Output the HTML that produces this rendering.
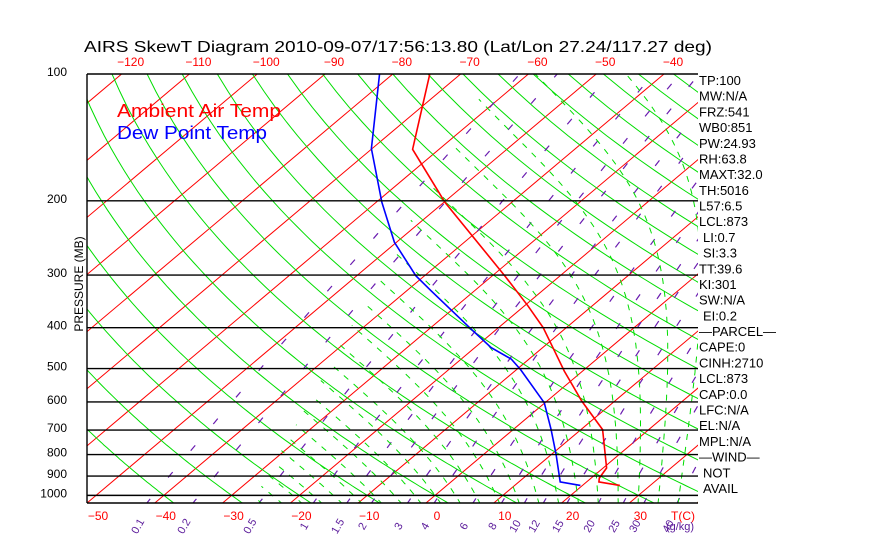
<!DOCTYPE html>
<html><head><meta charset="utf-8"><style>
html,body{margin:0;padding:0;background:#fff;}
svg{display:block;font-family:"Liberation Sans",sans-serif;}
</style></head><body>
<svg id="chart" width="870" height="560" viewBox="0 0 870 560">
<defs>
<clipPath id="plotclip"><rect x="87" y="74" width="611" height="429"/></clipPath>
<clipPath id="moistclip"><polygon points="493,74 698,74 698,503 252,503"/></clipPath>
</defs>
<g id="bg" clip-path="url(#plotclip)"></g>
<g clip-path="url(#plotclip)"><g id="moist" clip-path="url(#moistclip)"></g></g>
<g id="prof" clip-path="url(#plotclip)"></g>
<g id="labels"></g>
<text x="84" y="52" font-size="16" textLength="628" lengthAdjust="spacingAndGlyphs" fill="#000">AIRS SkewT Diagram 2010-09-07/17:56:13.80 (Lat/Lon 27.24/117.27 deg)</text>
<text x="117" y="117" font-size="18" fill="#ff0000" textLength="164" lengthAdjust="spacingAndGlyphs">Ambient Air Temp</text>
<text x="117" y="139" font-size="18" fill="#0000ff" textLength="150" lengthAdjust="spacingAndGlyphs">Dew Point Temp</text>
<text transform="translate(83,284) rotate(-90)" text-anchor="middle" font-size="12">PRESSURE (MB)</text>
</svg>
<script>
// ---- data ----
const pressureLevels = [100,200,300,400,500,600,700,800,900,1000];
const isotherms = [-130,-120,-110,-100,-90,-80,-70,-60,-50,-40,-30,-20,-10,0,10,20,30,40];
const bottomTickLabels = [-50,-40,-30,-20,-10,0,10,20,30];
const topTickLabels = [-120,-110,-100,-90,-80,-70,-60,-50,-40];
const dryAdiabatsC = [-40,-30,-20,-10,0,10,20,30,40,50,60,70,80,90,100,110,120,130,140,150,160,170,180,190,200];
const moistAdiabatsC = [-30,-27,-24,-21,-18,-15,-12,-9,-6,-3,0,3,6,9,12,15,18,21,24,27,30,33,36,39];
const mixingRatios = [0.1,0.2,0.5,1,1.5,2,3,4,6,8,10,12,15,20,25,30,40];
const mixingLabels = ["0.1","0.2","0.5","1","1.5","2","3","4","6","8","10","12","15","20","25","30","40"];
const tempP = [100.2,150.9,201.4,301,354.9,400,438,507,597,698,861,910,929,947];
const tempT = [-74.5,-63.9,-49.9,-28.2,-19.5,-13.4,-9.3,-2.7,5.1,13.2,20.5,21.2,21.8,25.5];
const dewP = [100.2,150.3,201.4,250.9,301,327,403,446,475,503,603,698,800,929,947];
const dewT = [-81.9,-70.1,-59.2,-50.3,-41.3,-36.4,-23.8,-17.6,-12.6,-9.4,-0.1,5.6,10.7,16.1,19.7];
const infoLines = ["TP:100","MW:N/A","FRZ:541","WB0:851","PW:24.93","RH:63.8","MAXT:32.0","TH:5016","L57:6.5","LCL:873"," LI:0.7"," SI:3.3","TT:39.6","KI:301","SW:N/A"," EI:0.2","\u2014PARCEL\u2014","CAPE:0","CINH:2710","LCL:873","CAP:0.0","LFC:N/A","EL:N/A","MPL:N/A","\u2014WIND\u2014"," NOT"," AVAIL"];

// ---- axes ----
const TOP=74, BOT=503, LEFT=87, RIGHT=698, K=183, X0=426, SX=6.78, SKEW=1.187;
function yOf(p){return TOP+K*Math.log(p/100);}
function xOf(T,p){return X0+SX*T+SKEW*(BOT-yOf(p));}
const NS="http://www.w3.org/2000/svg";
const bg=document.getElementById('bg'), moistG=document.getElementById('moist'), prof=document.getElementById('prof'), lab=document.getElementById('labels'), svg=document.getElementById('chart');
function mk(tag,attrs,parent){const e=document.createElementNS(NS,tag);for(const k in attrs)e.setAttribute(k,attrs[k]);parent.appendChild(e);return e;}
function poly(pts){return pts.map(p=>p[0].toFixed(1)+','+p[1].toFixed(1)).join(' ');}
const PB=1050;

// isotherms
isotherms.forEach(T=>{
  const l=mk('line',{x1:xOf(T,PB),y1:yOf(PB),x2:xOf(T,100),y2:yOf(100),stroke:'#ff0000','stroke-width':1},bg);
  
  
});
// dry adiabats
dryAdiabatsC.forEach(th=>{
  const pts=[];
  for(let p=PB;p>=99;p-=10){const T=(th+273.15)*Math.pow(p/1000,0.286)-273.15;pts.push([xOf(T,p),yOf(p)]);}
  const l=mk('polyline',{points:poly(pts),fill:'none',stroke:'#00dd00','stroke-width':1},bg);
  
  
});
// moist adiabats
function es(Tc){return 6.112*Math.exp(17.67*Tc/(Tc+243.5));}
function moistGrad(Tk,p){const rs=0.622*es(Tk-273.15)/(p-es(Tk-273.15));const Rd=287,cp=1004,Lv=2.5e6,eps=0.622;return (Rd*Tk+Lv*rs)/(cp+Lv*Lv*rs*eps/(Rd*Tk*Tk))/p;}
moistAdiabatsC.forEach(t0=>{
  let T=t0+273.15;let p=1000;
  const down=[];let Td=T;for(let pp=1000;pp<=PB;pp+=5){down.push([xOf(Td-273.15,pp),yOf(pp)]);Td+=moistGrad(Td,pp)*5;}
  const pts=down.reverse();
  while(p>100){pts.push([xOf(T-273.15,p),yOf(p)]);const dp=5;T-=moistGrad(T,p)*dp;p-=dp;}
  pts.push([xOf(T-273.15,p),yOf(p)]);
  const l=mk('polyline',{points:poly(pts),fill:'none',stroke:'#00dd00','stroke-width':1,'stroke-dasharray':'6,7'},moistG);
  
  
});
// mixing ratio lines
function tdOfE(e){const a=Math.log(e/6.112);return 243.5*a/(17.67-a);}
mixingRatios.forEach((w,i)=>{
  const pts=[];
  for(let p=PB;p>=99;p-=10){const e=w*p/(622+w);pts.push([xOf(tdOfE(e),p),yOf(p)]);}
  const l=mk('polyline',{points:poly(pts),fill:'none',stroke:'#6a1cb0','stroke-width':1.2,'stroke-dasharray':'7,28'},bg);
  
  
  const eB=w*1042/(622+w);const xb=xOf(tdOfE(eB),1042)-6;
  const t=mk('text',{transform:'translate('+xb.toFixed(1)+',528) rotate(-60)','text-anchor':'middle','font-size':11,fill:'#5a1a9a'},lab);
  t.textContent=mixingLabels[i];
  
  
});
// pressure lines
pressureLevels.forEach(p=>{
  const l=mk('line',{x1:LEFT,y1:yOf(p),x2:RIGHT,y2:yOf(p),stroke:'#000','stroke-width':1.4},svg);
  
  
  const t=mk('text',{x:67,y:yOf(p)+2,'text-anchor':'end','font-size':12,fill:'#000'},lab);
  t.textContent=String(p);
  
  
});
const bl=mk('line',{x1:LEFT,y1:BOT,x2:RIGHT,y2:BOT,stroke:'#000','stroke-width':1.4},svg);


const ll=mk('line',{x1:LEFT,y1:TOP,x2:LEFT,y2:BOT,stroke:'#000','stroke-width':1.4},svg);


// temp labels
bottomTickLabels.forEach(T=>{
  const t=mk('text',{x:X0+SX*T+11,y:520,'text-anchor':'middle','font-size':12,fill:'#ff0000'},lab);
  t.textContent=String(T).replace('-','\u2212');
  
  
});
const tc=mk('text',{x:683,y:520,'text-anchor':'middle','font-size':12,fill:'#ff0000'},lab);
tc.textContent='T(C)';


const gk=mk('text',{x:680,y:530,'text-anchor':'middle','font-size':11,fill:'#5a1a9a'},lab);
gk.textContent='(g/kg)';


topTickLabels.forEach(T=>{
  const t=mk('text',{x:xOf(T,100)+9,y:66,'text-anchor':'middle','font-size':12,fill:'#ff0000'},lab);
  t.textContent=String(T).replace('-','\u2212');
  
  
});
// profiles
const tp=mk('polyline',{points:poly(tempP.map((p,i)=>[xOf(tempT[i],p),yOf(p)])),fill:'none',stroke:'#ff0000','stroke-width':1.6},prof);


const dp=mk('polyline',{points:poly(dewP.map((p,i)=>[xOf(dewT[i],p),yOf(p)])),fill:'none',stroke:'#0000ff','stroke-width':1.6},prof);


// info column
infoLines.forEach((s,i)=>{
  const t=mk('text',{x:s.startsWith(' ')?703:699,y:85+i*15.69,'font-size':13,fill:'#000'},lab);
  t.textContent=s.trim();
  
  
});
</script>
</body></html>
